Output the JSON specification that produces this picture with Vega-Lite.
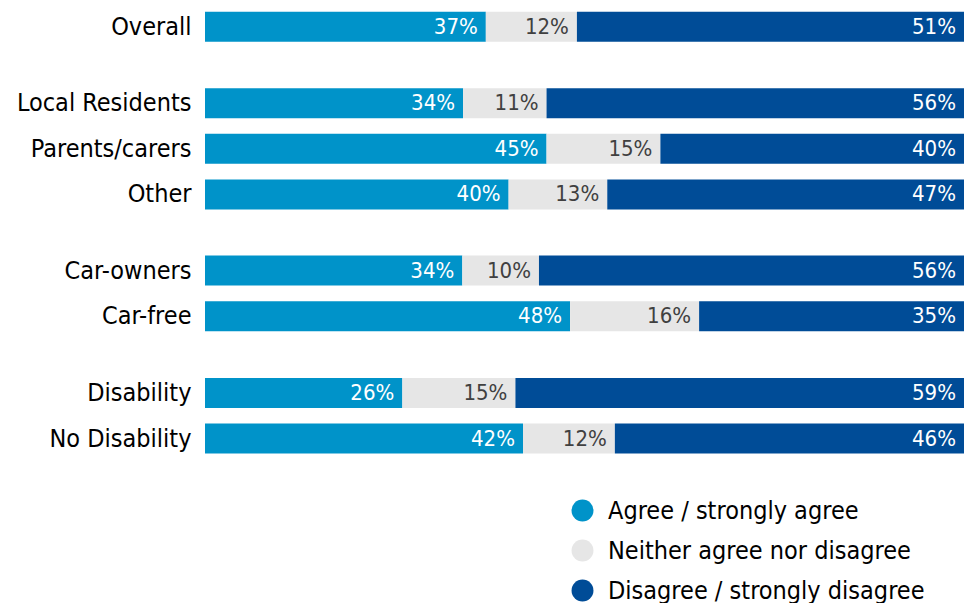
{
  "$schema": "https://vega.github.io/schema/vega-lite/v6.json",
  "padding": {"left": 16, "top": 4, "right": 0, "bottom": 0},
  "background": "white",
  "bounds": "flush",
  "spacing": 30.4,
  "config": {
    "view": {"stroke": null},
    "font": "DejaVu Sans Condensed",
    "axis": {"labelFont": "DejaVu Sans Condensed"},
    "legend": {"labelFont": "DejaVu Sans Condensed"}
  },
  "data": {
    "values": [
      {"group": "Overall", "panel": 1, "resp": "Agree / strongly agree", "order": 1, "value": 37.0, "label": "37%"},
      {"group": "Overall", "panel": 1, "resp": "Neither agree nor disagree", "order": 2, "value": 12.0, "label": "12%"},
      {"group": "Overall", "panel": 1, "resp": "Disagree / strongly disagree", "order": 3, "value": 51.0, "label": "51%"},
      {"group": "Local Residents", "panel": 2, "resp": "Agree / strongly agree", "order": 1, "value": 34.0, "label": "34%"},
      {"group": "Local Residents", "panel": 2, "resp": "Neither agree nor disagree", "order": 2, "value": 11.0, "label": "11%"},
      {"group": "Local Residents", "panel": 2, "resp": "Disagree / strongly disagree", "order": 3, "value": 55.0, "label": "56%"},
      {"group": "Parents/carers", "panel": 2, "resp": "Agree / strongly agree", "order": 1, "value": 45.0, "label": "45%"},
      {"group": "Parents/carers", "panel": 2, "resp": "Neither agree nor disagree", "order": 2, "value": 15.0, "label": "15%"},
      {"group": "Parents/carers", "panel": 2, "resp": "Disagree / strongly disagree", "order": 3, "value": 40.0, "label": "40%"},
      {"group": "Other", "panel": 2, "resp": "Agree / strongly agree", "order": 1, "value": 40.0, "label": "40%"},
      {"group": "Other", "panel": 2, "resp": "Neither agree nor disagree", "order": 2, "value": 13.0, "label": "13%"},
      {"group": "Other", "panel": 2, "resp": "Disagree / strongly disagree", "order": 3, "value": 47.0, "label": "47%"},
      {"group": "Car-owners", "panel": 3, "resp": "Agree / strongly agree", "order": 1, "value": 33.9, "label": "34%"},
      {"group": "Car-owners", "panel": 3, "resp": "Neither agree nor disagree", "order": 2, "value": 10.1, "label": "10%"},
      {"group": "Car-owners", "panel": 3, "resp": "Disagree / strongly disagree", "order": 3, "value": 56.0, "label": "56%"},
      {"group": "Car-free", "panel": 3, "resp": "Agree / strongly agree", "order": 1, "value": 48.1, "label": "48%"},
      {"group": "Car-free", "panel": 3, "resp": "Neither agree nor disagree", "order": 2, "value": 17.0, "label": "16%"},
      {"group": "Car-free", "panel": 3, "resp": "Disagree / strongly disagree", "order": 3, "value": 34.9, "label": "35%"},
      {"group": "Disability", "panel": 4, "resp": "Agree / strongly agree", "order": 1, "value": 26.0, "label": "26%"},
      {"group": "Disability", "panel": 4, "resp": "Neither agree nor disagree", "order": 2, "value": 14.9, "label": "15%"},
      {"group": "Disability", "panel": 4, "resp": "Disagree / strongly disagree", "order": 3, "value": 59.1, "label": "59%"},
      {"group": "No Disability", "panel": 4, "resp": "Agree / strongly agree", "order": 1, "value": 41.9, "label": "42%"},
      {"group": "No Disability", "panel": 4, "resp": "Neither agree nor disagree", "order": 2, "value": 12.1, "label": "12%"},
      {"group": "No Disability", "panel": 4, "resp": "Disagree / strongly disagree", "order": 3, "value": 46.0, "label": "46%"}
    ]
  },
  "transform": [
    {"stack": "value", "groupby": ["group"], "sort": [{"field": "order", "order": "ascending"}], "as": ["x0", "x1"]}
  ],
  "vconcat": [
    {
      "width": 759, "height": 45.6,
      "transform": [{"filter": "datum.panel === 1"}],
      "encoding": {
        "y": {"field": "group", "type": "nominal", "sort": ["Overall"],
              "scale": {"paddingInner": 0.342, "paddingOuter": 0.171},
              "axis": {"title": null, "domain": false, "ticks": false, "labelFontSize": 25, "labelColor": "black", "labelPadding": 14, "labelLimit": 300}}
      },
      "layer": [
        {"mark": {"type": "bar"},
         "encoding": {
           "x": {"field": "x0", "type": "quantitative", "scale": {"domain": [0, 100], "nice": false}, "axis": null},
           "x2": {"field": "x1"},
           "color": {"field": "resp", "type": "nominal",
                     "scale": {"domain": ["Agree / strongly agree", "Neither agree nor disagree", "Disagree / strongly disagree"], "range": ["#0093C9", "#E6E6E6", "#004C97"]},
                     "legend": {"title": null, "orient": "none", "legendX": 365, "legendY": 494, "symbolType": "circle", "symbolSize": 480, "symbolStrokeWidth": 0, "labelFontSize": 25, "labelColor": "black", "labelOffset": 13, "rowPadding": 14, "labelLimit": 400}}
         }},
        {"mark": {"type": "text", "align": "right", "baseline": "middle", "dx": -8, "fontSize": 22},
         "encoding": {
           "x": {"field": "x1", "type": "quantitative"},
           "text": {"field": "label"},
           "color": {"condition": {"test": "datum.resp === 'Neither agree nor disagree'", "value": "#404040"}, "value": "white"}
         }}
      ]
    },
    {
      "width": 759, "height": 136.8,
      "transform": [{"filter": "datum.panel === 2"}],
      "encoding": {
        "y": {"field": "group", "type": "nominal", "sort": ["Local Residents", "Parents/carers", "Other"],
              "scale": {"paddingInner": 0.342, "paddingOuter": 0.171},
              "axis": {"title": null, "domain": false, "ticks": false, "labelFontSize": 25, "labelColor": "black", "labelPadding": 14, "labelLimit": 300}}
      },
      "layer": [
        {"mark": {"type": "bar"},
         "encoding": {
           "x": {"field": "x0", "type": "quantitative", "scale": {"domain": [0, 100], "nice": false}, "axis": null},
           "x2": {"field": "x1"},
           "color": {"field": "resp", "type": "nominal"}
         }},
        {"mark": {"type": "text", "align": "right", "baseline": "middle", "dx": -8, "fontSize": 22},
         "encoding": {
           "x": {"field": "x1", "type": "quantitative"},
           "text": {"field": "label"},
           "color": {"condition": {"test": "datum.resp === 'Neither agree nor disagree'", "value": "#404040"}, "value": "white"}
         }}
      ]
    },
    {
      "width": 759, "height": 91.2,
      "transform": [{"filter": "datum.panel === 3"}],
      "encoding": {
        "y": {"field": "group", "type": "nominal", "sort": ["Car-owners", "Car-free"],
              "scale": {"paddingInner": 0.342, "paddingOuter": 0.171},
              "axis": {"title": null, "domain": false, "ticks": false, "labelFontSize": 25, "labelColor": "black", "labelPadding": 14, "labelLimit": 300}}
      },
      "layer": [
        {"mark": {"type": "bar"},
         "encoding": {
           "x": {"field": "x0", "type": "quantitative", "scale": {"domain": [0, 100], "nice": false}, "axis": null},
           "x2": {"field": "x1"},
           "color": {"field": "resp", "type": "nominal"}
         }},
        {"mark": {"type": "text", "align": "right", "baseline": "middle", "dx": -8, "fontSize": 22},
         "encoding": {
           "x": {"field": "x1", "type": "quantitative"},
           "text": {"field": "label"},
           "color": {"condition": {"test": "datum.resp === 'Neither agree nor disagree'", "value": "#404040"}, "value": "white"}
         }}
      ]
    },
    {
      "width": 759, "height": 91.2,
      "transform": [{"filter": "datum.panel === 4"}],
      "encoding": {
        "y": {"field": "group", "type": "nominal", "sort": ["Disability", "No Disability"],
              "scale": {"paddingInner": 0.342, "paddingOuter": 0.171},
              "axis": {"title": null, "domain": false, "ticks": false, "labelFontSize": 25, "labelColor": "black", "labelPadding": 14, "labelLimit": 300}}
      },
      "layer": [
        {"mark": {"type": "bar"},
         "encoding": {
           "x": {"field": "x0", "type": "quantitative", "scale": {"domain": [0, 100], "nice": false}, "axis": null},
           "x2": {"field": "x1"},
           "color": {"field": "resp", "type": "nominal"}
         }},
        {"mark": {"type": "text", "align": "right", "baseline": "middle", "dx": -8, "fontSize": 22},
         "encoding": {
           "x": {"field": "x1", "type": "quantitative"},
           "text": {"field": "label"},
           "color": {"condition": {"test": "datum.resp === 'Neither agree nor disagree'", "value": "#404040"}, "value": "white"}
         }}
      ]
    }
  ]
}
